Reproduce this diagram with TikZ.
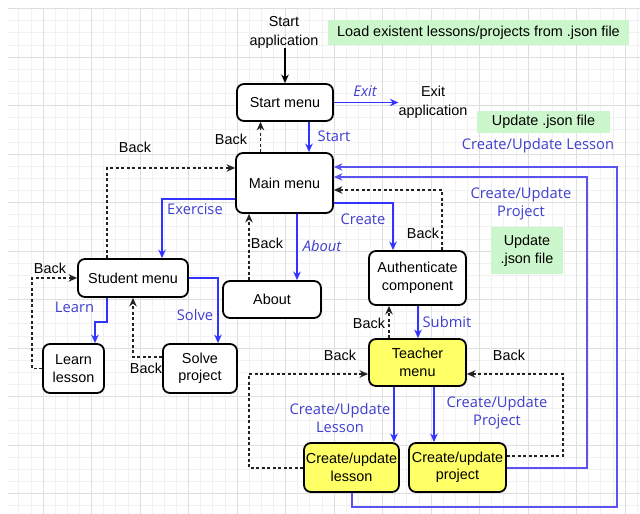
\documentclass[tikz,border=0pt]{standalone}
\usepackage{fontspec}
\setmainfont{Liberation Sans}
\newfontfamily\lblfont{Open Sans}
\usetikzlibrary{arrows.meta}
\definecolor{boxyellow}{HTML}{FFFF66}
\definecolor{notegreen}{HTML}{CCF7CC}
\definecolor{arrblue}{HTML}{3333FF}
\definecolor{longblue}{HTML}{5C52F0}
\definecolor{lblblue}{HTML}{3F3FD0}
\definecolor{dashgrey}{HTML}{222222}
\definecolor{minorgrid}{HTML}{F1F1F1}
\definecolor{majorgrid}{HTML}{DEDEDE}
\tikzset{
  box/.style={draw, line width=1.8pt, rounded corners=7pt, fill=white, align=center, inner sep=0pt, font=\fontsize{14.4}{17.5}\selectfont},
  ybox/.style={box, fill=boxyellow},
  note/.style={fill=notegreen, align=center, inner sep=0pt, font=\fontsize{14.4}{18}\selectfont},
  lbl/.style={text=lblblue, inner sep=0pt, align=center, font=\lblfont\fontsize{14.7}{18}\selectfont},
  ilbl/.style={lbl, font=\lblfont\itshape\fontsize{14.7}{18}\selectfont},
  blk/.style={inner sep=0pt, align=center, font=\fontsize{14.4}{19}\selectfont},
  tip/.style={-{Stealth[length=8.5pt,width=7.5pt]}},
  bar/.style={draw=arrblue, line width=1.3pt, tip},
  lbar/.style={draw=longblue, line width=1.3pt, tip},
  kar/.style={draw=black, line width=1.3pt, tip},
  dar/.style={draw=dashgrey, line width=1.3pt, dash pattern=on 3pt off 2.5pt, tip}
}
\begin{document}
\begin{tikzpicture}[x=1pt,y=-1pt]
\useasboundingbox (0,0) rectangle (640,514);
\fill[white] (0,0) rectangle (640,514);
% grid background
\begin{scope}
\clip (8,8) rectangle (640,514);
\foreach \i in {0,...,54} \draw[minorgrid, line width=0.6pt] ({-5.5+12.125*\i},8) -- ++(0,506);
\foreach \j in {0,...,42} \draw[minorgrid, line width=0.6pt] (8,{8.5+12.125*\j}) -- ++(632,0);
\foreach \i in {0,...,14} \draw[majorgrid, line width=0.7pt] ({-5.5+48.5*\i},8) -- ++(0,506);
\foreach \j in {0,...,11} \draw[majorgrid, line width=0.7pt] (8,{8.5+48.5*\j}) -- ++(632,0);
\end{scope}

% notes
\node[note, minimum width=301pt, minimum height=25pt] (g1) at (478.5,32.5) {Load existent lessons/projects from .json file};
\node[note, minimum width=133pt, minimum height=22pt] (g2) at (543.5,122) {Update .json file};
\node[note, minimum width=72pt, minimum height=47pt] (g3) at (527,250.5) {Update\\.json file};

% plain texts
\node[blk] (sa) at (284,32) {Start\\application};
\node[blk] (ea) at (433,102) {Exit\\application};

% boxes
\node[box, minimum width=96pt, minimum height=37pt] (sm) at (285,102.5) {Start menu};
\node[box, minimum width=97pt, minimum height=60pt] (mm) at (284.5,183) {Main menu};
\node[box, minimum width=110pt, minimum height=38pt] (stu) at (133,278) {Student menu};
\node[box, minimum width=98pt, minimum height=37pt] (ab) at (272,299.5) {About};
\node[box, minimum width=97pt, minimum height=54pt] (au) at (417.5,278) {Authenticate\\component};
\node[ybox, minimum width=97pt, minimum height=47pt] (tm) at (417.5,362.5) {Teacher\\menu};
\node[box, minimum width=61pt, minimum height=49pt] (ll) at (73.5,368.5) {Learn\\lesson};
\node[box, minimum width=74pt, minimum height=49pt] (sp) at (200,368.5) {Solve\\project};
\node[ybox, minimum width=95pt, minimum height=49pt] (cl) at (351.5,467.5) {Create/update\\lesson};
\node[ybox, minimum width=97pt, minimum height=49pt] (cp) at (457.5,467.5) {Create/update\\project};

% connectors
\draw[kar] (sa.south -| sm.north) -- (sm.north);
\draw[bar] (sm.east) -- (ea.west |- sm.east);
\draw[bar] (sm.south -| 309,0) -- (mm.north -| 309,0);
\draw[dar] (mm.north -| 260.5,0) -- (sm.south -| 260.5,0);
\draw[bar] (mm.west |- 0,199) -| (stu.north -| 162,0);
\draw[dar] (stu.north -| 107,0) |- (mm.west |- 0,168);
\draw[bar] (stu.south -| 107,0) -- (107,322) -| (ll.north -| 95,0);
\draw[bar] (stu.east) -| (sp.north -| 218,0);
\draw[dar] (ll.west) -- (32,368.5) |- (stu.west);
\draw[dar] (sp.west |- 0,357) -| (stu.south);
\draw[bar] (mm.south -| 297,0) -- (ab.north -| 297,0);
\draw[dar] (ab.north -| 249,0) -- (mm.south -| 249,0);
\draw[bar] (mm.east |- 0,203) -| (au.north -| 393,0);
\draw[dar] (au.north -| 442,0) |- (mm.east |- 0,190);
\draw[bar] (au.south -| 418,0) -- (tm.north -| 418,0);
\draw[dar] (tm.north -| 389,0) -- (au.south -| 389,0);
\draw[bar] (tm.south -| 394,0) -- (cl.north -| 394,0);
\draw[bar] (tm.south -| 434,0) -- (cp.north -| 434,0);
\draw[dar] (cl.west |- 0,468) -- (249,468) |- (tm.west |- 0,374);
\draw[dar] (cp.east |- 0,456) -- (563,456) |- (tm.east |- 0,374);
\draw[lbar] (cp.east |- 0,468) -- (587,468) |- (mm.east |- 0,177);
\draw[lbar] (cl.south -| 352,0) |- (617,507) |- (mm.east |- 0,167);

% connector labels
\node[ilbl] (lexit) at (365,91) {Exit};
\node[lbl] (lstart) at (334,136) {Start};
\node[blk] (lb1) at (231,139) {Back};
\node[blk] (lb2) at (135,147) {Back};
\node[lbl] (lex) at (195,209) {Exercise};
\node[blk] (lb3) at (267,243) {Back};
\node[ilbl] (labout) at (322,246) {About};
\node[lbl] (lcreate) at (363,219) {Create};
\node[blk] (lb4) at (423,233) {Back};
\node[lbl] (lcup) at (521,204) {Create/Update\\Project};
\node[lbl] (lcul) at (538,146) {Create/Update Lesson};
\node[blk] (lb5) at (50,268) {Back};
\node[lbl] (llearn) at (74.5,307) {Learn};
\node[lbl] (lsolve) at (195,315) {Solve};
\node[blk] (lb6) at (146,368) {Back};
\node[lbl] (lsubmit) at (447,322) {Submit};
\node[blk] (lb7) at (369,323) {Back};
\node[blk] (lb8) at (340,355) {Back};
\node[blk] (lb9) at (509,355) {Back};
\node[lbl] (lcul2) at (340,417.5) {Create/Update\\Lesson};
\node[lbl] (lcup2) at (497,412.5) {Create/Update\\Project};
\end{tikzpicture}
\end{document}
